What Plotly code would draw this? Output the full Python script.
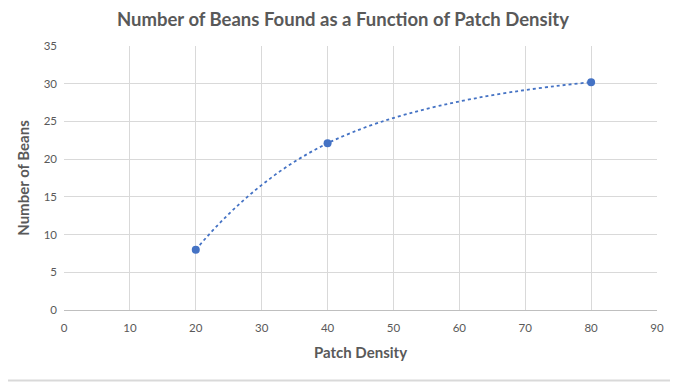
import plotly.graph_objects as go

patch_density = [20, 40, 80]
beans_found = [8, 22.1, 30.2]
x_ticks = list(range(0, 91, 10))
y_ticks = list(range(0, 36, 5))

fig = go.Figure()
fig.add_trace(go.Scatter(
    x=patch_density, y=beans_found, mode="lines+markers",
    line=dict(color="#4472C4", width=1.8, dash="dot", shape="spline", smoothing=1.3),
    marker=dict(color="#4472C4", size=8),
    showlegend=False,
))

gray = "#595959"
# page body has an 8px margin, so the figure is 8px smaller and offsets shifted
fig.update_layout(
    width=670, height=376,
    margin=dict(l=56, r=21, t=38, b=74, autoexpand=False),
    paper_bgcolor="white", plot_bgcolor="white",
    title=dict(text="<b>Number of Beans Found as a Function of Patch Density</b>",
               x=0.5, xanchor="center", y=1 - 12 / 376, yanchor="middle",
               font=dict(family="Lato", size=18.5, color=gray)),
    font=dict(family="Lato", color=gray),
    shapes=[dict(type="line", xref="paper", yref="paper", x0=-0.2, x1=1.2,
                 y0=-0.267, y1=-0.267, line=dict(color="#d9d9d9", width=2))],
)
fig.update_xaxes(
    range=[0, 90], tickvals=x_ticks, showgrid=True, gridcolor="#d9d9d9", gridwidth=1,
    zeroline=False, showline=True, linecolor="#bfbfbf", linewidth=1, mirror=False,
    ticks="", tickfont=dict(size=11.5, color=gray), ticklabelstandoff=7, automargin=False,
    title=dict(text="<b>Patch Density</b>", font=dict(size=15, color=gray), standoff=14),
)
fig.update_yaxes(
    range=[0, 35], tickvals=y_ticks, showgrid=True, gridcolor="#d9d9d9", gridwidth=1,
    zeroline=False, showline=False, ticks="", tickfont=dict(size=11.5, color=gray),
    ticklabelstandoff=6, automargin=False,
    title=dict(text="<b>Number of Beans</b>", font=dict(size=15, color=gray), standoff=10),
)
fig.write_html("out.html")
